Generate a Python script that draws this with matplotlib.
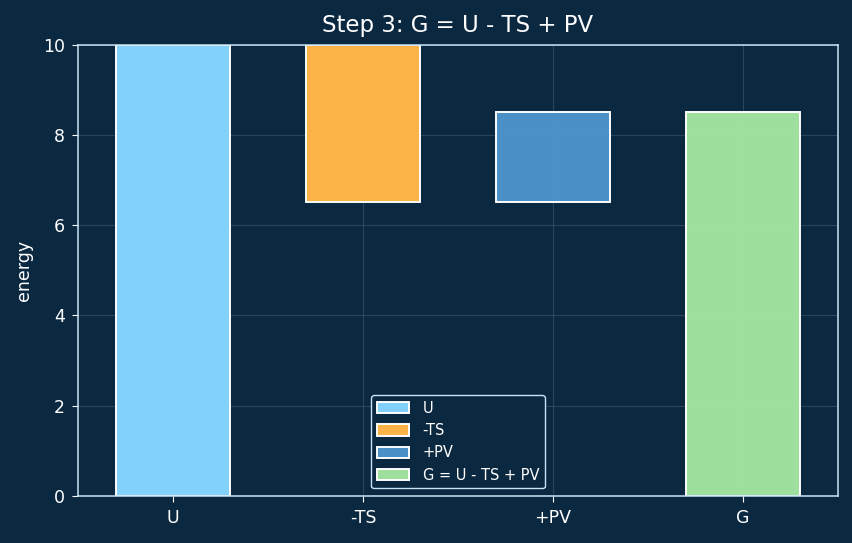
import matplotlib.pyplot as plt

categories = ['U', '-TS', '+PV', 'G']
bottoms = [0, 6.5, 6.5, 0]
heights = [10, 3.5, 2.0, 8.5]
labels = ['U', '-TS', '+PV', 'G = U - TS + PV']
colors = ['#84d4ff', '#ffb547', '#4d93cb', '#a2e2a0']

bg = '#0b2841'
fg = '#c8e4f4'

fig, ax = plt.subplots(figsize=(8.52, 5.43), dpi=100)
fig.patch.set_facecolor(bg)
ax.set_facecolor(bg)

x = range(len(categories))
for i in x:
    ax.bar(i, heights[i], bottom=bottoms[i], width=0.6, color=colors[i],
           alpha=0.99, edgecolor='white', linewidth=1.4, label=labels[i], zorder=2)

ax.set_xticks(list(x))
ax.set_xticklabels(categories)
ax.set_xlim(-0.5, 3.5)
ax.set_ylim(0, 10)
ax.set_ylabel('energy', color='white', fontsize=12.5, labelpad=7)
ax.set_title('Step 3: G = U - TS + PV', color='white', fontsize=16.5, pad=9)
ax.tick_params(colors='white', labelsize=12.5, length=4.5, pad=5)
for s in ax.spines.values():
    s.set_color(fg)
    s.set_linewidth(1.1)
ax.grid(True, color='#6a8aa5', alpha=0.3, linewidth=0.8)
ax.set_axisbelow(True)

leg = ax.legend(loc='lower center', fontsize=10.5, facecolor=bg, edgecolor=fg, framealpha=1,
                handlelength=2.2, handleheight=0.8, labelspacing=0.5, handletextpad=0.95)
for t in leg.get_texts():
    t.set_color('white')

plt.subplots_adjust(left=0.092, right=0.983, top=0.918, bottom=0.087)
plt.savefig('out.png', facecolor=bg)
